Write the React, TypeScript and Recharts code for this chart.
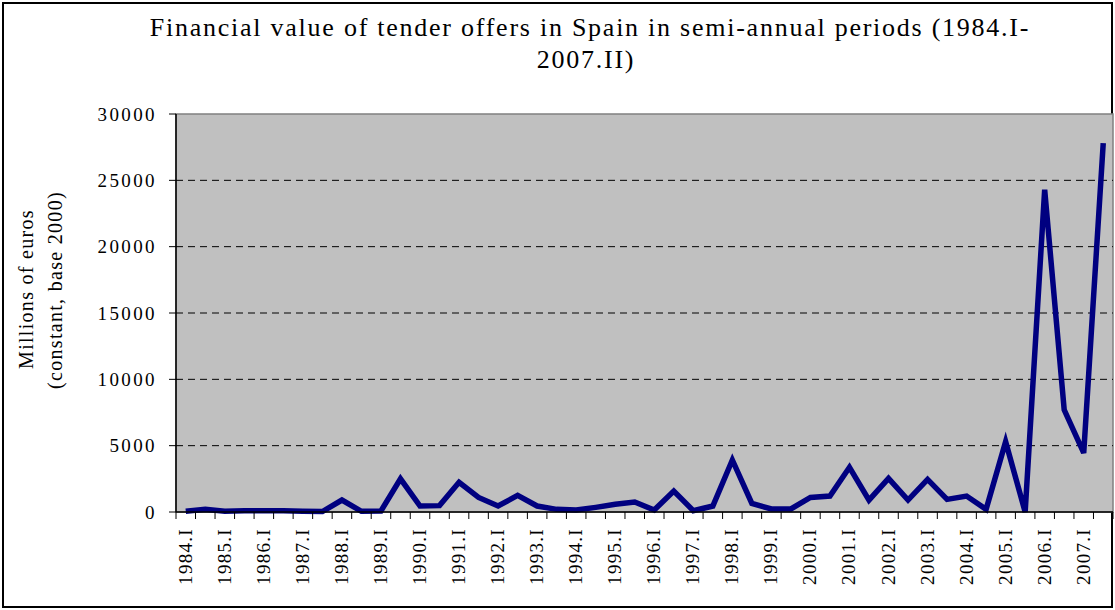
import { LineChart, Line, XAxis, YAxis, ReferenceArea, ReferenceLine } from 'recharts'

const periods = [
  '1984.I', '1984.II', '1985.I', '1985.II', '1986.I', '1986.II', '1987.I', '1987.II',
  '1988.I', '1988.II', '1989.I', '1989.II', '1990.I', '1990.II', '1991.I', '1991.II',
  '1992.I', '1992.II', '1993.I', '1993.II', '1994.I', '1994.II', '1995.I', '1995.II',
  '1996.I', '1996.II', '1997.I', '1997.II', '1998.I', '1998.II', '1999.I', '1999.II',
  '2000.I', '2000.II', '2001.I', '2001.II', '2002.I', '2002.II', '2003.I', '2003.II',
  '2004.I', '2004.II', '2005.I', '2005.II', '2006.I', '2006.II', '2007.I', '2007.II',
]

// millions of euros, constant 2000 prices
const tenderValue = [
  50, 200, 50, 100, 100, 100, 50, 30,
  900, 50, 80, 2500, 450, 480, 2240, 1100,
  450, 1250, 450, 200, 150, 350, 580, 750,
  150, 1580, 100, 450, 3920, 650, 230, 230,
  1100, 1200, 3370, 900, 2540, 900, 2460, 950,
  1200, 200, 5300, 0, 24300, 7700, 4450, 27800,
]

const yTicks = [0, 5000, 10000, 15000, 20000, 25000, 30000]
const gridValues = [5000, 10000, 15000, 20000, 25000]

// periods are placed by position so the plot keeps Excel's half-band margins
const data = periods.map((p, i) => ({ idx: i, period: p, value: tenderValue[i] }))
const xTicks = data.map((d) => d.idx)

const W = 1115
const H = 610
const PLOT_LEFT = 176
const PLOT_RIGHT = 1113
const BAND = (PLOT_RIGHT - PLOT_LEFT) / periods.length
const FONT = 'Liberation Serif'

function PeriodTick(props: any) {
  const { x, y, payload } = props
  const index = payload.value
  const left = x - BAND / 2
  return (
    <g>
      <line x1={left} y1={y} x2={left} y2={y + 7} stroke="#000" />
      {index === periods.length - 1 && (
        <line x1={x + BAND / 2} y1={y} x2={x + BAND / 2} y2={y + 7} stroke="#000" />
      )}
      {index % 2 === 0 && (
        <text
          x={x + 6}
          y={y + 16}
          transform={`rotate(-90 ${x + 6} ${y + 16})`}
          textAnchor="end"
          fontSize={19}
          letterSpacing={1.3}
          fontFamily={FONT}
          fill="#000"
        >
          {periods[index]}
        </text>
      )}
    </g>
  )
}

function AxisTitle() {
  return (
    <g fontFamily={FONT} fontSize={20} letterSpacing={1.3} fill="#000" textAnchor="middle">
      <text x={33} y={289} transform="rotate(-90 33 289)">Millions of euros</text>
      <text x={62} y={290} transform="rotate(-90 62 290)">(constant, base 2000)</text>
    </g>
  )
}

export default function App() {
  const titleStyle = {
    position: 'absolute' as const, width: 1000, textAlign: 'center' as const,
    fontFamily: FONT, fontSize: 26, letterSpacing: 1.75, lineHeight: '32px', color: '#000',
  }
  return (
    <div style={{ position: 'absolute', left: 0, top: 0, width: W, height: H, background: '#fff' }}>
      <div
        style={{
          position: 'absolute', left: 2, top: 2, width: W - 4, height: H - 4,
          border: '2px solid #000', boxSizing: 'border-box',
        }}
      />
      <div style={{ ...titleStyle, left: 90, top: 12 }}>
        Financial value of tender offers in Spain in semi-annual periods (1984.I-
      </div>
      <div style={{ ...titleStyle, left: 86, top: 44 }}>2007.II)</div>
      <div style={{ position: 'absolute', left: 0, top: 0 }}>
        <LineChart width={W} height={H} data={data} margin={{ top: 114, right: 2, bottom: 0, left: 0 }}>
          <ReferenceArea
            x1={-0.5}
            x2={periods.length - 0.5}
            y1={0}
            y2={30000}
            fill="#C0C0C0"
            fillOpacity={1}
            stroke="#808080"
            strokeWidth={1.5}
          />
          {gridValues.map((v) => (
            <ReferenceLine key={v} y={v} stroke="#000" strokeDasharray="7 5" />
          ))}
          <XAxis
            type="number"
            dataKey="idx"
            domain={[-0.5, periods.length - 0.5]}
            ticks={xTicks}
            interval={0}
            height={98}
            tickSize={0}
            tickMargin={0}
            tickLine={false}
            axisLine={{ stroke: '#000', strokeWidth: 1.5 }}
            tick={<PeriodTick />}
          />
          <YAxis
            width={176}
            domain={[0, 30000]}
            ticks={yTicks}
            interval={0}
            tickSize={7}
            tickMargin={12}
            axisLine={{ stroke: '#000', strokeWidth: 1.5 }}
            tickLine={{ stroke: '#000' }}
            tick={{ fill: '#000', fontSize: 19, fontFamily: FONT, letterSpacing: 2.4 }}
            label={{ content: () => <AxisTitle /> }}
          />
          <Line
            type="linear"
            dataKey="value"
            stroke="#000080"
            strokeWidth={5.5}
            dot={false}
            isAnimationActive={false}
          />
        </LineChart>
      </div>
    </div>
  )
}
